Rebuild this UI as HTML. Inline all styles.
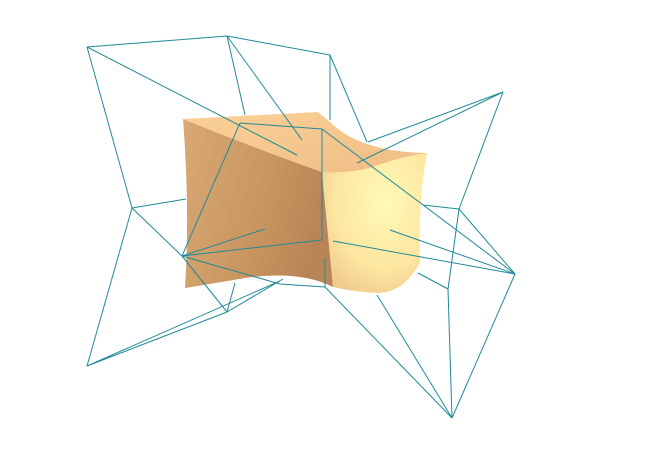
<!DOCTYPE html>
<html><head><meta charset="utf-8"><style>
html,body{margin:0;padding:0;background:#fff;width:662px;height:453px;overflow:hidden}
svg{display:block}
</style></head><body>
<svg id="chart" width="662" height="453" viewBox="0 0 662 453">
<defs>
<linearGradient id="gl" x1="0" y1="0" x2="1" y2="0.3">
<stop offset="0" stop-color="#d9a874"/><stop offset="0.6" stop-color="#c99660"/><stop offset="1" stop-color="#b98556"/></linearGradient>
<linearGradient id="gt" x1="0" y1="0" x2="1" y2="1">
<stop offset="0" stop-color="#fbd198"/><stop offset="1" stop-color="#eebd84"/></linearGradient>
<radialGradient id="gr" cx="0.6" cy="0.35" r="0.8">
<stop offset="0" stop-color="#fffab8"/><stop offset="0.6" stop-color="#fde6a0"/><stop offset="1" stop-color="#ecc488"/></radialGradient>
</defs>
<g>
<path fill="url(#gl)" d="M183,119 Q260,150 322,172 L333,287 Q300,270 245,278 Q210,284 185,288 Q190,210 183,119 Z"/>
<path fill="url(#gt)" d="M183,119 L318,112 L330,122 Q360,152 427,153 Q395,158 370,168 Q345,174 322,172 Q260,150 183,119 Z"/>
<path fill="url(#gr)" d="M322,172 Q345,174 370,168 Q395,158 427,153 Q418,200 420,262 Q405,292 378,293 Q355,292 333,287 Z"/>
</g>
<g id="wire" stroke="#1f8a99" stroke-width="1" fill="none"></g>
</svg>
<script>
const segStart = [[87,47],[227,36],[87,47],[87,47],[227,36],[227,36],[330,55],[330,55],[503,92],[503,92],[503,92],[459,209],[448,289],[132,208],[132,208],[132,208],[182,256],[240,123],[322,129],[322,240],[182,256],[182,256],[280,284],[325,287],[325,287],[322,129],[333,241],[390,230],[423,205],[459,209],[515,274],[377,295],[418,273],[87,366],[87,366],[227,312],[227,312],[182,256]];
const segEnd = [[227,36],[330,55],[132,208],[297,155],[245,115],[302,140],[330,120],[367,142],[368,142],[357,163],[459,209],[448,289],[452,418],[186,199],[182,256],[87,366],[240,123],[322,129],[322,240],[182,256],[265,229],[280,284],[325,287],[452,418],[325,258],[515,274],[515,274],[515,274],[459,209],[515,274],[452,418],[452,418],[448,289],[280,281],[227,312],[235,283],[283,279],[227,312]];
const g = document.getElementById('wire');
for (let i = 0; i < segStart.length; i++) {
  const l = document.createElementNS('http://www.w3.org/2000/svg', 'line');
  l.setAttribute('x1', segStart[i][0]); l.setAttribute('y1', segStart[i][1]);
  l.setAttribute('x2', segEnd[i][0]); l.setAttribute('y2', segEnd[i][1]);
  
  
  g.appendChild(l);
}
</script>
</body></html>
